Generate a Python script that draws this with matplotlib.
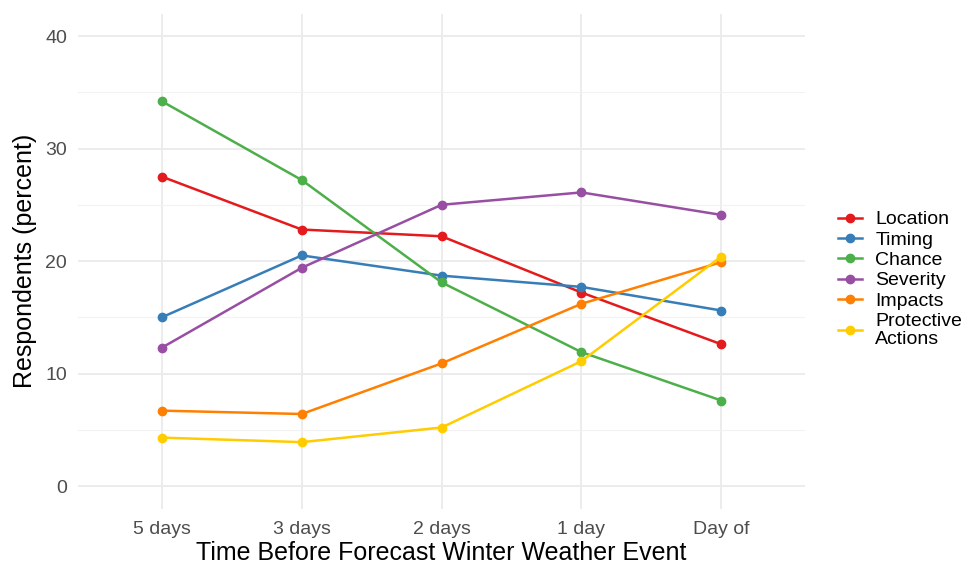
import numpy as np
import matplotlib.pyplot as plt
from matplotlib.lines import Line2D

plt.rcParams['font.family'] = ['Liberation Sans', 'DejaVu Sans']

# data
periods = ["5 days", "3 days", "2 days", "1 day", "Day of"]
location = [27.5, 22.8, 22.2, 17.2, 12.6]
timing = [15.0, 20.5, 18.7, 17.7, 15.6]
chance = [34.2, 27.2, 18.1, 11.9, 7.6]
severity = [12.3, 19.4, 25.0, 26.1, 24.1]
impacts = [6.7, 6.4, 10.9, 16.2, 19.9]
protective = [4.3, 3.9, 5.2, 11.1, 20.4]

series_names = ["Location", "Timing", "Chance", "Severity", "Impacts", "Protective\nActions"]
series_vals = [location, timing, chance, severity, impacts, protective]
colors = ["#e41a1c", "#377eb8", "#4daf4a", "#984ea3", "#ff7f00", "#ffcc00"]

fig = plt.figure(figsize=(9.69, 5.65), dpi=100)
ax = fig.add_axes([0.0805, 0.1, 0.7505, 0.876])

x = np.arange(len(periods))
for name, vals, c in zip(series_names, series_vals, colors):
    ax.plot(x, vals, color=c, lw=1.8, marker="o", ms=6, label=name, zorder=3)

ax.set_xlim(-0.6, 4.6)
ax.set_ylim(-2, 42)
ax.set_xticks(x)
ax.set_xticklabels(periods)
ax.set_yticks([0, 10, 20, 30, 40])
ax.set_yticks([5, 15, 25, 35], minor=True)

ax.grid(True, which="major", color="#ebebeb", lw=1.3, zorder=0)
ax.grid(True, which="minor", axis="y", color="#f2f2f2", lw=0.8, zorder=0)
for s in ax.spines.values():
    s.set_visible(False)
ax.tick_params(which="both", length=0, labelsize=14, labelcolor="#4d4d4d")
ax.tick_params(axis="x", pad=9)
ax.tick_params(axis="y", pad=8)

ax.set_xlabel("Time Before Forecast Winter Weather Event", fontsize=18, labelpad=2)
ax.set_ylabel("Respondents (percent)", fontsize=18, labelpad=6)

handles = [Line2D([0], [0], color=c, lw=1.8, marker="o", ms=6) for c in colors]
leg = fig.legend(handles, series_names, loc="center left", bbox_to_anchor=(0.857, 0.505),
                 frameon=False, fontsize=14, handlelength=1.2, handletextpad=0.7,
                 labelspacing=0.14, borderaxespad=0)
leg.get_texts()[-1].set_linespacing(1.15)

fig.savefig("out.png", dpi=100, facecolor="white")
